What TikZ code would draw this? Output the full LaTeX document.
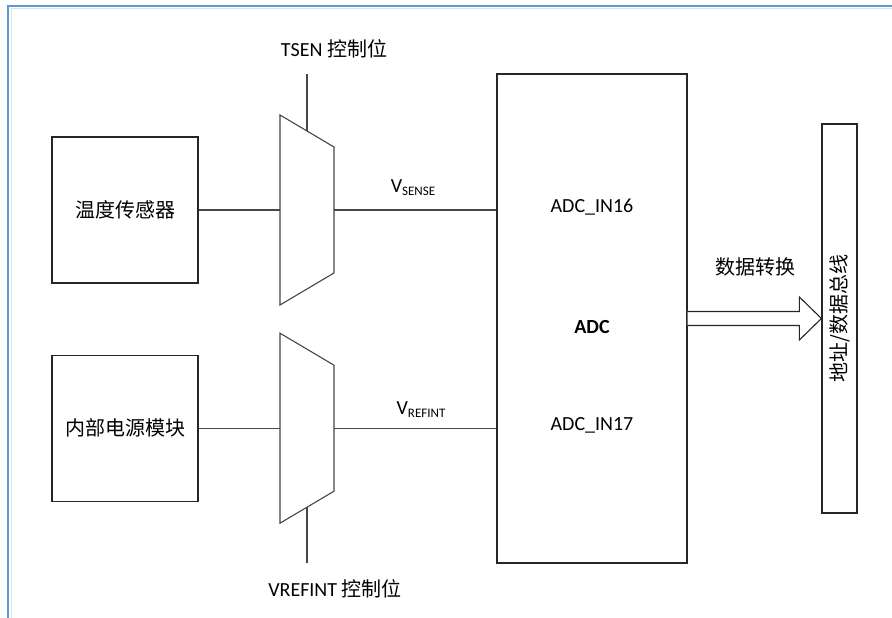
\documentclass[tikz,border=0pt]{standalone}
\usepackage{fontspec}
\setmainfont{Carlito}
\newfontfamily\cjk{Noto Sans CJK SC}
\usepackage{tikz}
\usetikzlibrary{positioning,calc}
\definecolor{framblue}{RGB}{91,155,213}
\definecolor{framgray}{RGB}{222,226,226}
\definecolor{wire}{RGB}{70,70,70}
\newcommand{\vsig}[1]{V\raisebox{-3pt}{\fontsize{13}{14}\selectfont #1}}
\tikzset{
  adc block/.style={rectangle, draw=black!85, line width=1.2pt, fill=white, inner sep=0pt, align=center},
  adc text/.style={font=\fontsize{20}{24}\selectfont, inner sep=1pt},
  adc wire/.style={draw=wire, line width=1.1pt},
  adc mux/.style={draw=wire, line width=1.1pt, fill=white}
}

\begin{document}
\begin{tikzpicture}[x=1pt, y=1pt]
    \useasboundingbox (0,0) rectangle (892,618);
    % Frame
    \draw [framgray, line width=1pt] (11,0) -- (11,609) -- (892,609);
    \draw [framblue, line width=1.5pt] (8,0) -- (8,612) -- (892,612);

    % Sources
    \node [adc block, adc text, minimum width=146pt, minimum height=146pt] (Temp) at (125,408) {\cjk 温度传感器};
    \node [adc block, adc text, minimum width=146pt, minimum height=146pt, below=71pt of Temp] (Pwr) {\cjk 内部电源模块};

    % ADC and bus
    \node [adc block, minimum width=190pt, minimum height=489pt] (ADC) at (592,299.5) {};
    \node [adc block, minimum width=35pt, minimum height=389pt] (Bus) at (839.5,299.5) {};
    \node [adc text, rotate=90] (BusLbl) at (Bus.center) {\cjk 地址/数据总线};

    \node [adc text] (In16) at (592,411) {ADC\_IN16};
    \node [adc text, font=\fontsize{20}{24}\selectfont\bfseries] (AdcLbl) at (592,291) {ADC};
    \node [adc text] (In17) at (592,193) {ADC\_IN17};

    % Multiplexers
    \coordinate (Mux1) at (Temp.center -| 307,0);
    \coordinate (Mux2) at (Pwr.center -| 307,0);
    \draw [adc mux] ($(Mux1)+(-27,95)$) -- ($(Mux1)+(27,63)$) -- ($(Mux1)+(27,-63)$) -- ($(Mux1)+(-27,-95)$) -- cycle;
    \draw [adc mux] ($(Mux2)+(-27,95)$) -- ($(Mux2)+(27,63)$) -- ($(Mux2)+(27,-63)$) -- ($(Mux2)+(-27,-95)$) -- cycle;
    \coordinate (Mux1In) at ($(Mux1)+(-27,0)$);
    \coordinate (Mux1Out) at ($(Mux1)+(27,0)$);
    \coordinate (Mux1Ctl) at ($(Mux1)+(0,79)$);
    \coordinate (Mux2In) at ($(Mux2)+(-27,0)$);
    \coordinate (Mux2Out) at ($(Mux2)+(27,0)$);
    \coordinate (Mux2Ctl) at ($(Mux2)+(0,-79)$);

    % Control bits
    \coordinate (Tsen) at (307,544);
    \coordinate (Vref) at (307,55);
    \node [adc text] (TsenLbl) at (334,569) {TSEN {\cjk 控制位}};
    \node [adc text] (VrefLbl) at (335,29) {VREFINT {\cjk 控制位}};

    % Connections
    \draw [adc wire] (Temp) -- (Mux1In);
    \draw [adc wire] (Pwr) -- (Mux2In);
    \draw [adc wire] (Tsen) -- (Mux1Ctl);
    \draw [adc wire] (Vref) -- (Mux2Ctl);
    \draw [adc wire] (Mux1Out) -- (Mux1Out -| ADC.west);
    \draw [adc wire] (Mux2Out) -- (Mux2Out -| ADC.west);
    \node [adc text] (Vsense) at (413,430) {\vsig{SENSE}};
    \node [adc text] (Vrefint) at (421,208) {\vsig{REFINT}};

    % Data arrow
    \draw [draw=black!85, line width=1.1pt, fill=white] ($(ADC.east)+(0,7)$) -- ($(Bus.west)+(-22,7)$) -- ($(Bus.west)+(-22,21.5)$) -- (Bus.west) -- ($(Bus.west)+(-22,-21.5)$) -- ($(Bus.west)+(-22,-7)$) -- ($(ADC.east)+(0,-7)$);
    \node [adc text] (Conv) at (755,351) {\cjk 数据转换};
\end{tikzpicture}
\end{document}
